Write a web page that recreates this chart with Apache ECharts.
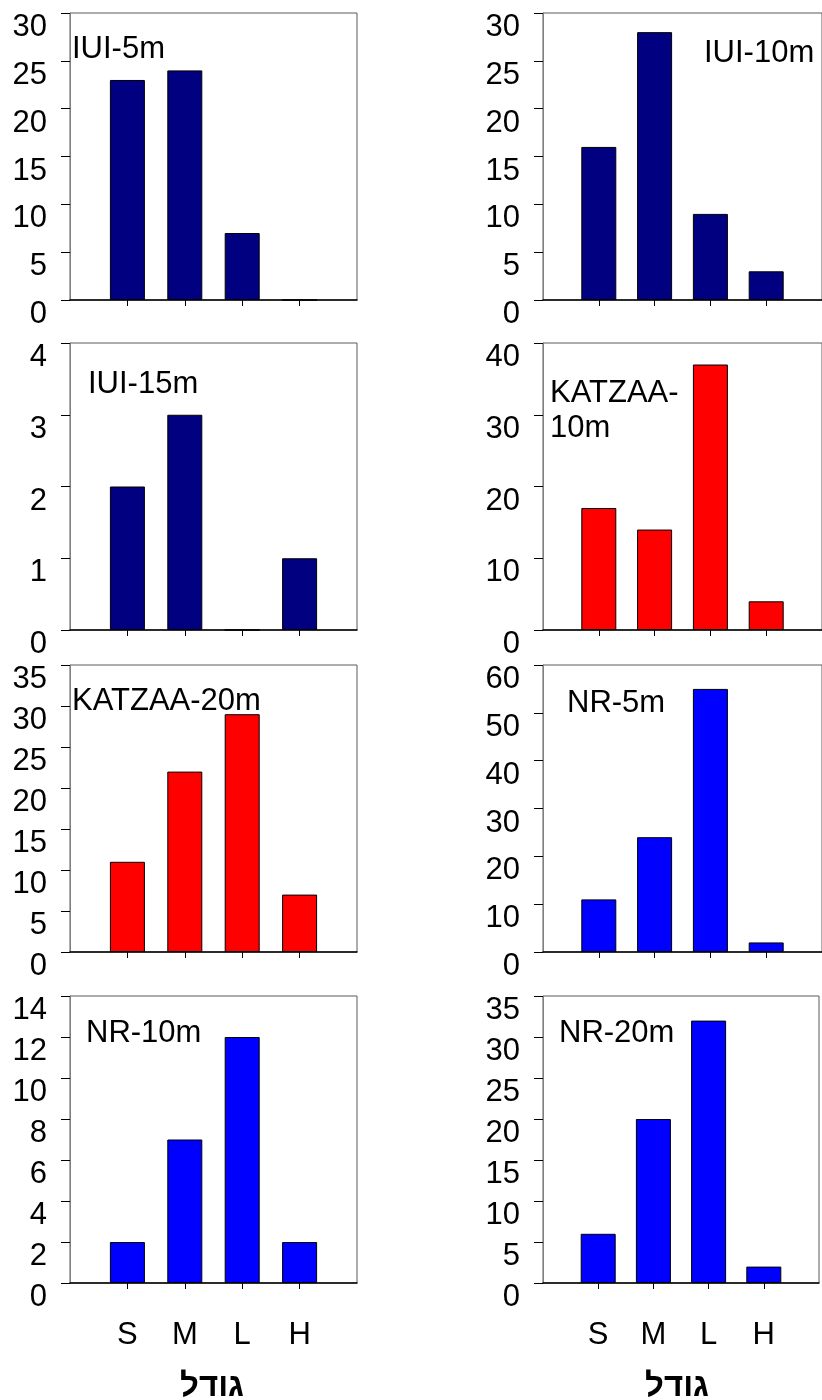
<!DOCTYPE html>
<html>
<head>
<meta charset="utf-8">
<script src="https://cdn.jsdelivr.net/npm/echarts@6/dist/echarts.min.js"></script>
<style>
  html, body { margin: 0; padding: 0; background: #fff; }
  #chart { width: 822px; height: 1400px; }
</style>
</head>
<body>
<div id="chart"></div>
<script>
// Size classes shared by every panel
const categories = ['S', 'M', 'L', 'H'];

// Counts per size class for each site / depth
const iui5m     = [23, 24, 7, 0];
const iui10m    = [16, 28, 9, 3];
const iui15m    = [2, 3, 0, 1];
const katzaa10m = [17, 14, 37, 4];
const katzaa20m = [11, 22, 29, 7];
const nr5m      = [11, 24, 55, 2];
const nr10m     = [2, 7, 12, 2];
const nr20m     = [6, 20, 32, 2];

// Panel names
const panelNames = ['IUI-5m', 'IUI-10m', 'IUI-15m', 'KATZAA-\n10m',
                    'KATZAA-20m', 'NR-5m', 'NR-10m', 'NR-20m'];

// Value-axis ranges (max, step) per panel
const axisMax  = [30, 30, 4, 40, 35, 60, 14, 35];
const axisStep = [5, 5, 1, 10, 5, 10, 2, 5];

const xTitle = 'גודל';

const navy = '#000080', red = '#FF0000', blue = '#0000FF';
const panels = [
  { data: iui5m,     color: navy },
  { data: iui10m,    color: navy },
  { data: iui15m,    color: navy },
  { data: katzaa10m, color: red },
  { data: katzaa20m, color: red },
  { data: nr5m,      color: blue },
  { data: nr10m,     color: blue },
  { data: nr20m,     color: blue }
];

// Layout: two columns, four rows
const colLeft = [70, 543];
const rowTop = [13, 343, 665, 996];
const plotW = 287, plotH = 287;

// Label anchor per panel (left, top)
const nameAt = [[72, 32], [704, 36], [88, 367], [550, 376],
                [72, 684], [567, 686], [86, 1016], [559, 1016]];

const FONT = 'Liberation Sans, Arial, sans-serif';
const FS = 31;

// Category axis padded with an empty slot at each end so bars sit at 1/5..4/5
const paddedCats = [''].concat(categories, ['']);

const grids = [], xAxes = [], yAxes = [], series = [], titles = [];
panels.forEach((p, i) => {
  const col = i % 2, row = Math.floor(i / 2);
  const bottomRow = row === 3;
  grids.push({
    left: colLeft[col], top: rowTop[row], width: plotW, height: plotH,
    show: true, borderColor: '#5a5a5a', borderWidth: 1, backgroundColor: '#fff',
    containLabel: false
  });
  xAxes.push({
    type: 'category', gridIndex: i, data: paddedCats, boundaryGap: false,
    axisLine: { lineStyle: { color: '#000', width: 1.5 } },
    axisTick: { show: true, length: 6, lineStyle: { color: '#000' },
                interval: (idx) => idx > 0 && idx < paddedCats.length - 1 },
    axisLabel: { show: bottomRow, interval: 0, color: '#000', fontSize: FS,
                 fontFamily: FONT, margin: 37, verticalAlign: 'top' },
    splitLine: { show: false }
  });
  yAxes.push({
    type: 'value', gridIndex: i, min: 0, max: axisMax[i], interval: axisStep[i],
    axisLine: { show: true, lineStyle: { color: '#808080', width: 1 } },
    axisTick: { show: true, length: 9, lineStyle: { color: '#000' } },
    axisLabel: { color: '#000', fontSize: FS, fontFamily: FONT, margin: 23,
                 verticalAlign: 'top', padding: [-1, 0, 0, 0] },
    splitLine: { show: false }
  });
  series.push({
    type: 'bar', xAxisIndex: i, yAxisIndex: i,
    data: [null].concat(p.data, [null]),
    barWidth: 35,
    itemStyle: { color: p.color, borderColor: '#000', borderWidth: 1 },
    silent: true, animation: false
  });
  titles.push({
    text: panelNames[i], left: nameAt[i][0], top: nameAt[i][1], padding: 0,
    textStyle: { fontFamily: FONT, fontSize: FS, fontWeight: 'normal',
                 color: '#000', lineHeight: 35 }
  });
});

// Axis title under each bottom panel
[212, 677].forEach(cx => {
  titles.push({
    text: xTitle, left: cx, top: 1370, textAlign: 'center', padding: 0,
    textStyle: { fontFamily: FONT, fontSize: 33, fontWeight: 'bold', color: '#000' }
  });
});

const chart = echarts.init(document.getElementById('chart'), null, { renderer: 'canvas' });
chart.setOption({
  animation: false,
  backgroundColor: '#fff',
  title: titles,
  grid: grids,
  xAxis: xAxes,
  yAxis: yAxes,
  series: series
});
</script>
</body>
</html>
